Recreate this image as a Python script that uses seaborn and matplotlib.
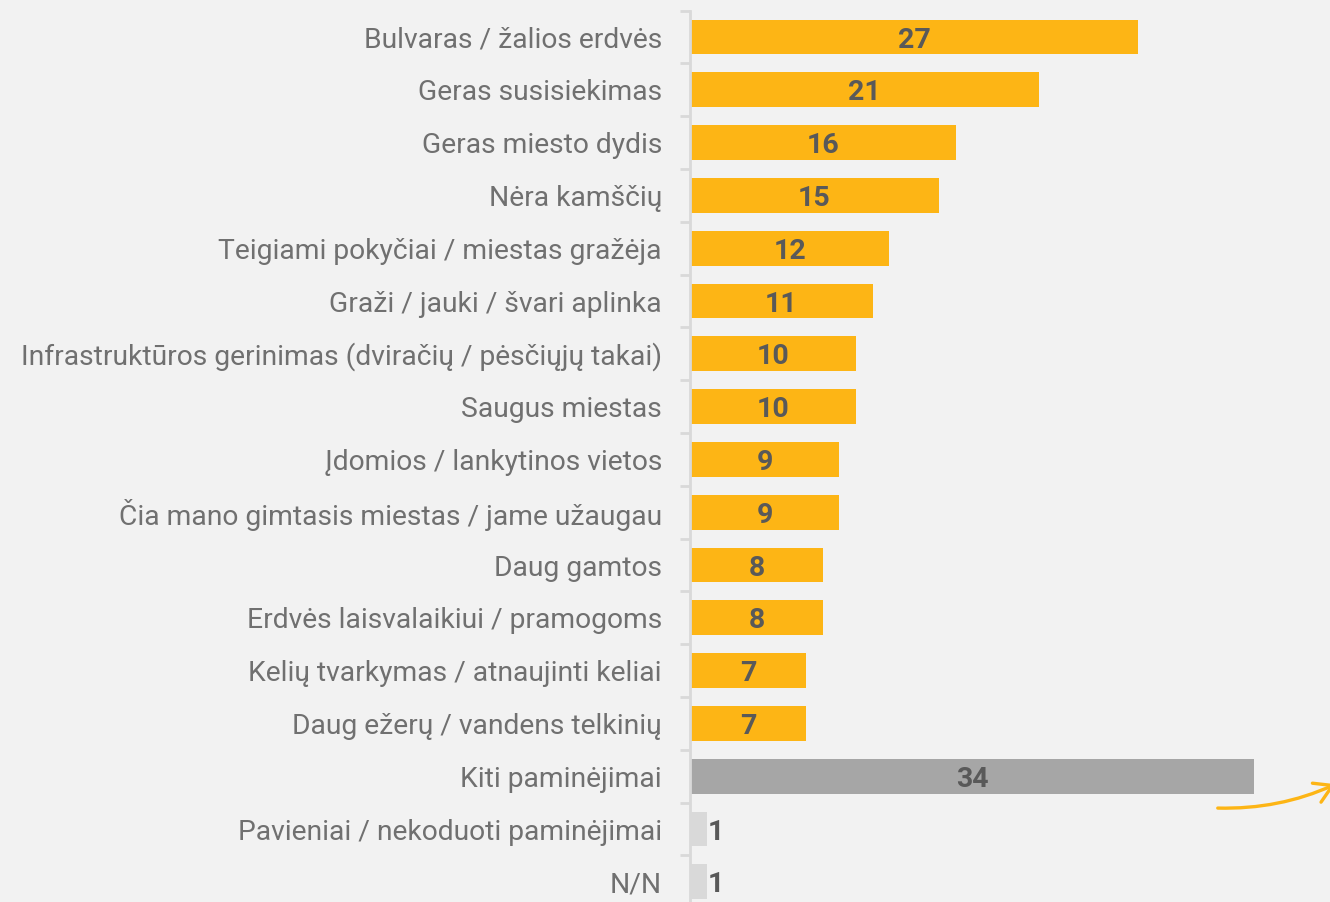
import matplotlib
matplotlib.use("Agg")
import matplotlib.pyplot as plt
import seaborn as sns
import numpy as np
from matplotlib.patches import FancyArrowPatch
from matplotlib.ticker import FixedLocator

categories = [
    "Bulvaras / žalios erdvės",
    "Geras susisiekimas",
    "Geras miesto dydis",
    "Nėra kamščių",
    "Teigiami pokyčiai / miestas gražėja",
    "Graži / jauki / švari aplinka",
    "Infrastruktūros gerinimas (dviračių / pėsčiųjų takai)",
    "Saugus miestas",
    "Įdomios / lankytinos vietos",
    "Čia mano gimtasis miestas / jame užaugau",
    "Daug gamtos",
    "Erdvės laisvalaikiui / pramogoms",
    "Kelių tvarkymas / atnaujinti keliai",
    "Daug ežerų / vandens telkinių",
    "Kiti paminėjimai",
    "Pavieniai / nekoduoti paminėjimai",
    "N/N",
]
values = [27, 21, 16, 15, 12, 11, 10, 10, 9, 9, 8, 8, 7, 7, 34, 1, 1]
YELLOW, GREY, LIGHT = "#FDB515", "#A6A6A6", "#D9D9D9"
colors = [YELLOW] * 14 + [GREY, LIGHT, LIGHT]

sns.set_theme(style="white")
plt.rcParams["font.family"] = ["Roboto", "DejaVu Sans"]

BG = "#F2F2F2"
fig = plt.figure(figsize=(13.3, 9.02), dpi=100, facecolor=BG)
ax = fig.add_axes([690 / 1330, 0.0, 1 - 690 / 1330, 1 - 10.6 / 902])
ax.set_facecolor(BG)

sns.barplot(x=values, y=categories, hue=categories, palette=colors,
            legend=False, width=0.66, ax=ax, saturation=1, dodge=False,
            linewidth=0, edgecolor="none")

ax.set_xlim(0, (1330 - 690) / 16.6)
ax.set_ylim(-0.5 + (902 - 10.6) / 52.8, -0.5)

for sp in ["top", "right", "bottom"]:
    ax.spines[sp].set_visible(False)
ax.spines["left"].set_color(LIGHT)
ax.spines["left"].set_linewidth(2)
ax.set_xticks([])
ax.set_xlabel("")
ax.set_ylabel("")

ax.tick_params(axis="y", which="major", left=False, length=0, pad=28 * 0.72,
               labelsize=20.3, labelcolor="#707070")
ax.yaxis.set_minor_locator(FixedLocator(np.arange(-0.5, len(categories), 1.0)))
ax.tick_params(axis="y", which="minor", left=True, length=7.5, width=2, color=LIGHT)

patches = sorted([p for c in ax.containers for p in c], key=lambda p: p.get_y())
for p, v in zip(patches, values):
    yc = p.get_y() + p.get_height() / 2
    w = p.get_width()
    if v <= 2:
        ax.text(w + 0.05, yc + 0.06, str(v), ha="left", va="center",
                fontsize=20.5, fontweight="bold", color="#595959")
    else:
        ax.text(w / 2, yc + 0.06, str(v), ha="center", va="center",
                fontsize=20.5, fontweight="bold", color="#595959")

arrow = FancyArrowPatch((1215 / 1330, 1 - 808 / 902), (1338 / 1330, 1 - 783 / 902),
                        transform=fig.transFigure, connectionstyle="arc3,rad=0.12",
                        arrowstyle="->,head_length=5,head_width=3", color=YELLOW,
                        linewidth=2.4, mutation_scale=2.5, clip_on=False)
fig.patches.append(arrow)

fig.savefig("out.png", dpi=100, facecolor=BG)
